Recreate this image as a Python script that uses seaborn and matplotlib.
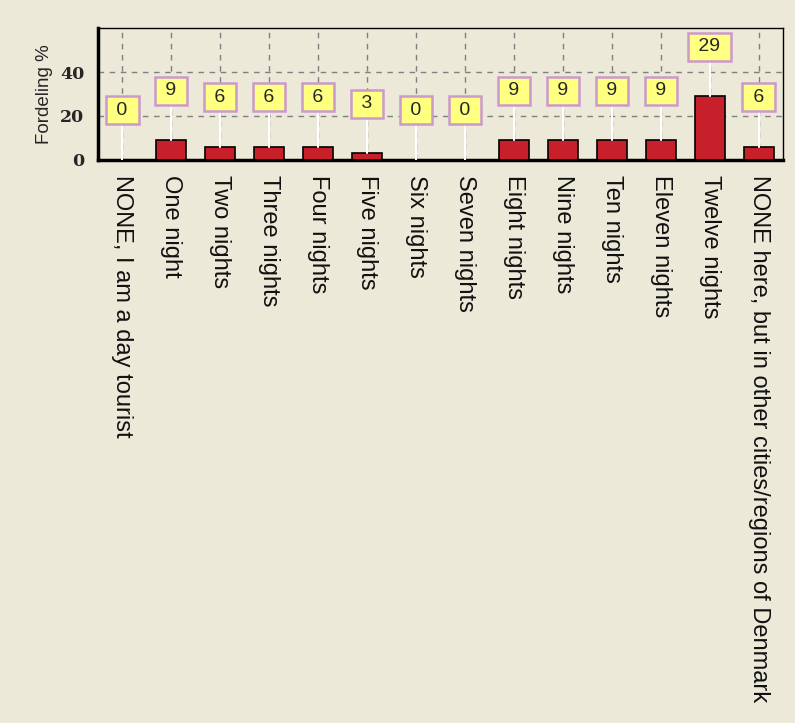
import matplotlib
matplotlib.use("Agg")
import matplotlib.pyplot as plt
import seaborn as sns
import numpy as np
from matplotlib.ticker import MultipleLocator

categories = ["NONE, I am a day tourist", "One night", "Two nights", "Three nights",
              "Four nights", "Five nights", "Six nights", "Seven nights", "Eight nights",
              "Nine nights", "Ten nights", "Eleven nights", "Twelve nights",
              "NONE here, but in other cities/regions of Denmark"]
values = [0, 9, 6, 6, 6, 3, 0, 0, 9, 9, 9, 9, 29, 6]
labels = ["0", "9", "6", "6", "6", "3", "0", "0", "9", "9", "9", "9", "29", "6"]
yticks = [0, 20, 40]

sns.set_style("white")
plt.rcParams['font.family'] = ['Liberation Sans', 'DejaVu Sans']

bg = "#ECE9D8"
fig = plt.figure(figsize=(7.95, 7.23), dpi=100, facecolor=bg)
ax = fig.add_axes([0.123, 0.779, 0.862, 0.182])
ax.set_facecolor(bg)

sns.barplot(x=categories, y=values, color="#C8202A", width=0.61, saturation=1,
            edgecolor="black", linewidth=1.2, ax=ax, zorder=3)

ax.set_ylim(0, 60)
ax.set_xlim(-0.5, len(categories) - 0.5)
ax.set_yticks(yticks)
ax.yaxis.set_minor_locator(MultipleLocator(5))
ax.xaxis.set_minor_locator(MultipleLocator(1 / 6))
ax.grid(True, which="major", axis="both", color="#808080", linestyle=(0, (4, 4)), linewidth=1, zorder=0)
for s in ax.spines.values():
    s.set_color("black")
    s.set_linewidth(1)
ax.spines["left"].set_linewidth(2.5)
ax.spines["bottom"].set_linewidth(2.5)

ax.tick_params(axis="x", which="major", length=8, width=3, color="#CC99CC", direction="out", pad=3)
ax.tick_params(axis="x", which="minor", length=4, width=1, color="#555555", direction="out")
ax.tick_params(axis="y", which="major", length=6, width=2, color="black", direction="out")
ax.tick_params(axis="y", which="minor", length=3, width=1, color="#555555", direction="out")

ax.set_xticks(range(len(categories)))
ax.set_xticklabels(categories, rotation=270, fontsize=17, va="top", ha="center", color="#111111")
for t in ax.get_yticklabels():
    t.set_fontweight("bold")
    t.set_fontsize(12.5)
    t.set_family(["DejaVu Serif"])
ax.set_ylabel("Fordeling %", fontsize=13.5, labelpad=5)
ax.set_xlabel("")

for i, (p, lab) in enumerate(zip(ax.patches, labels)):
    x = p.get_x() + p.get_width() / 2
    h = p.get_height()
    ly = h + 22.5
    ax.plot([x, x], [h, ly], color="white", lw=1.5, zorder=4)
    ax.text(x, ly, " " + lab + " ", ha="center", va="center", fontsize=14, zorder=5,
            bbox=dict(boxstyle="square,pad=0.28", fc="#FFFF80", ec="#CC99CC", lw=1.8))

fig.savefig("out.png", dpi=100, facecolor=bg)
